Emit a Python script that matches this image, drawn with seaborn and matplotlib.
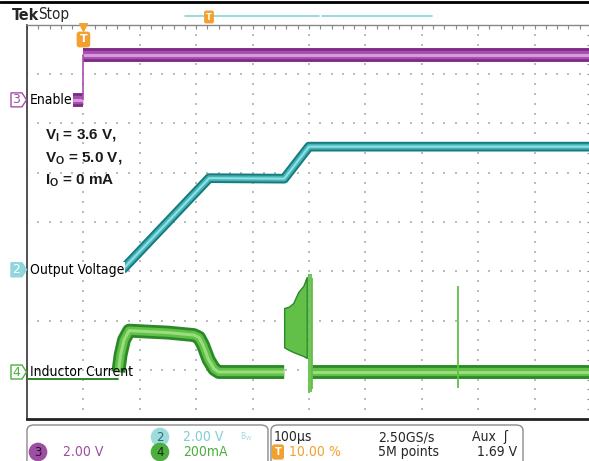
import numpy as np
import seaborn as sns
import matplotlib.pyplot as plt
from matplotlib.patches import Polygon, FancyBboxPatch
from matplotlib.lines import Line2D
from matplotlib.ticker import MultipleLocator

# ----------------------------------------------------------------------
# Scope traces (time in µs, trigger at t = 0, 100 µs/div)
# ----------------------------------------------------------------------
# Ch3 - Enable (V)
enable_low_t = [-25, 0]
enable_low_v = [0.0, 0.0]
enable_high_t = [0, 900]
enable_high_v = [1.83, 1.83]

# Ch2 - Output voltage (V)
vout_t = [69, 223, 356, 400, 900]
vout_v = [0.0, 3.72, 3.70, 5.0, 5.0]

# Ch4 - Inductor current (A)
il_pre_t = [-100, 62]
il_pre_a = [-0.03, -0.03]
il_hump_t = [62, 66, 72, 81, 150, 196, 205, 212, 222, 232, 240, 356]
il_hump_a = [0.0, 0.07, 0.13, 0.168, 0.16, 0.15, 0.14, 0.11, 0.05, 0.012, 0.0, 0.0]
il_burst_t = [356, 364, 372, 381, 390, 396]
il_burst_hi = [0.26, 0.265, 0.28, 0.325, 0.35, 0.386]
il_burst_lo = [0.10, 0.09, 0.081, 0.073, 0.065, 0.057]
il_post_t = [404, 900]
il_post_a = [0.0, 0.0]
il_spike_t = [400, 403, 406, 665]
il_spike_hi = [0.40, 0.40, 0.38, 0.35]
il_spike_lo = [-0.085, -0.08, -0.07, -0.065]

# channel settings: offset (div from bottom), scale (unit/div)
CH3_OFF, CH3_SCALE = 6.48, 2.0
CH2_OFF, CH2_SCALE = 3.03, 2.0
CH4_OFF, CH4_SCALE = 0.954, 0.2

# ----------------------------------------------------------------------
# Figure layout (pixels)
# ----------------------------------------------------------------------
W, H = 589, 461
AX_L, AX_R, AX_T, AX_B = 27, 591, 25, 419

PURPLE = ("#7e2b86", "#a94eb1", "#d39bd8")
TEAL = ("#167a7e", "#45b3b6", "#8ee0e2")
GREEN = ("#2a8a27", "#62bf48", "#98de7c")
ORANGE = "#f2a02e"

sns.set_style("white")
plt.rcParams["font.family"] = ["DejaVu Sans"]


def fx(px):
    return px / W


def fy(py):
    return 1 - py / H


def band(ax, t, y, colors, width, z=3):
    for c, lw in zip(colors, (width, width * 0.6, width * 0.22)):
        sns.lineplot(x=t, y=y, ax=ax, color=c, linewidth=lw, sort=False,
                     estimator=None, legend=False, zorder=z,
                     solid_capstyle="butt", solid_joinstyle="round")


fig = plt.figure(figsize=(W / 100, H / 100), dpi=100)
ax = fig.add_axes([fx(AX_L), fy(AX_B), (AX_R - AX_L) / W, (AX_B - AX_T) / H])
ax.set_xlim(-100, 900)
ax.set_ylim(0, 8)

# graticule dots (every 1/5 division along each major line)
xs_major = np.arange(0, 900, 100)
ys_major = np.arange(1, 8, 1)
xs_minor = np.arange(-100, 900.1, 20)
ys_minor = np.arange(0, 8.01, 0.2)
gx, gy = np.meshgrid(xs_major, ys_minor)
ax.scatter(gx.ravel(), gy.ravel(), s=1.0, marker="s", color="#bcbcbc",
           linewidths=0, zorder=1)
gx, gy = np.meshgrid(xs_minor, ys_major)
ax.scatter(gx.ravel(), gy.ravel(), s=1.0, marker="s", color="#bcbcbc",
           linewidths=0, zorder=1)

# frame and ticks
ax.xaxis.set_major_locator(MultipleLocator(100))
ax.xaxis.set_minor_locator(MultipleLocator(20))
ax.yaxis.set_major_locator(MultipleLocator(1))
ax.yaxis.set_minor_locator(MultipleLocator(0.2))
ax.tick_params(which="both", direction="in", length=3, width=0.8,
               color="#888888", top=True, right=True,
               labelbottom=False, labelleft=False)
for side, (c, lw) in {"left": ("#333333", 1.2), "bottom": ("#222222", 2.0),
                      "top": ("#888888", 1.0), "right": ("#888888", 1.0)}.items():
    ax.spines[side].set_color(c)
    ax.spines[side].set_linewidth(lw)
    ax.spines[side].set_visible(True)

# ---- Ch3 Enable
to3 = lambda v: [CH3_OFF + x / CH3_SCALE for x in v]
band(ax, enable_low_t, to3(enable_low_v), PURPLE, 10)
band(ax, enable_high_t, to3(enable_high_v), PURPLE, 10)
ax.vlines(enable_high_t[0], to3(enable_low_v)[1], to3(enable_high_v)[0],
          color=PURPLE[1], linewidth=1.2, zorder=3)

# ---- Ch2 Output voltage
to2 = lambda v: [CH2_OFF + x / CH2_SCALE for x in v]
band(ax, vout_t, to2(vout_v), TEAL, 7)

# ---- Ch4 Inductor current
to4 = lambda v: [CH4_OFF + x / CH4_SCALE for x in v]
sns.lineplot(x=il_pre_t, y=to4(il_pre_a), ax=ax, color=GREEN[0], linewidth=1.4,
             sort=False, estimator=None, legend=False, zorder=3)
band(ax, il_hump_t, to4(il_hump_a), GREEN, 10)
ax.fill_between(il_burst_t, to4(il_burst_lo), to4(il_burst_hi),
                color=GREEN[1], edgecolor=GREEN[0], linewidth=1.0, zorder=3)
band(ax, il_post_t, to4(il_post_a), GREEN, 10)
ax.vlines(il_spike_t, to4(il_spike_lo), to4(il_spike_hi),
          color=GREEN[1], linewidth=1.3, zorder=4)

# ---- channel ground markers and labels
ytr = ax.get_yaxis_transform()


def ax_x(px):
    return (px - AX_L) / (AX_R - AX_L)


def marker(off, num, fc, ec, tc, label, cover=True):
    h = 7 / 49.25
    pts = [(ax_x(11), off - h), (ax_x(22), off - h), (ax_x(26.5), off),
           (ax_x(22), off + h), (ax_x(11), off + h)]
    ax.add_patch(Polygon(pts, closed=True, facecolor=fc, edgecolor=ec,
                         linewidth=1.0, transform=ytr, clip_on=False, zorder=6))
    ax.text(ax_x(16.5), off, num, transform=ytr, ha="center", va="center",
            fontsize=9, color=tc, clip_on=False, zorder=7)
    box = dict(facecolor="white", edgecolor="none", pad=0.5) if cover else None
    ax.text(ax_x(29.5), off, label, transform=ytr, ha="left", va="center",
            fontsize=10, fontstretch="condensed", color="black", zorder=7,
            bbox=box)


marker(CH3_OFF, "3", "white", "#a14fa8", "#a14fa8", "Enable")
marker(CH2_OFF, "2", "#8fd6da", "#8fd6da", "white", "Output Voltage")
marker(CH4_OFF, "4", "white", "#4caf3c", "#4caf3c", "Inductor Current",
       cover=False)

# ---- trigger marker
xtr = ax.get_xaxis_transform()
ax.scatter([0], [(AX_B - 27.5) / (AX_B - AX_T)], transform=xtr, marker="v",
           s=30, color=ORANGE, zorder=8, clip_on=False)
ax.text(0, (AX_B - 39.5) / (AX_B - AX_T), "T", transform=xtr, ha="center",
        va="center", fontsize=8, fontweight="bold", color="white", zorder=8,
        bbox=dict(boxstyle="round,pad=0.2", facecolor=ORANGE, edgecolor=ORANGE))

# ---- conditions annotation
for i, s in enumerate([r"V$_\mathregular{I}$ = 3.6 V,",
                       r"V$_\mathregular{O}$ = 5.0 V,",
                       r"I$_\mathregular{O}$ = 0 mA"]):
    fig.text(fx(45), fy(136 + i * 22.5), s, fontsize=11, fontweight="bold",
             family=["Liberation Sans", "DejaVu Sans"],
             ha="left", va="center", color="#1a1a1a")

# ---- header
fig.add_artist(Line2D([0, 1], [fy(2), fy(2)], color="black", linewidth=2))
fig.text(fx(12), fy(15), "Tek", fontsize=11.5, fontweight="bold",
         ha="left", va="center", fontstretch="condensed")
fig.text(fx(38), fy(15), "Stop", fontsize=11, ha="left", va="center",
         fontstretch="condensed")
fig.add_artist(Line2D([fx(185), fx(319)], [fy(16), fy(16)], color="#86d4d8", linewidth=1.2))
fig.add_artist(Line2D([fx(322), fx(432)], [fy(16), fy(16)], color="#86d4d8", linewidth=1.2))
fig.text(fx(209), fy(17), "T", fontsize=6, fontweight="bold", color="white",
         ha="center", va="center",
         bbox=dict(boxstyle="round,pad=0.15", facecolor=ORANGE, edgecolor=ORANGE))

# ---- bottom readout panel
for x0, x1 in [(27, 268), (271, 523)]:
    fig.add_artist(FancyBboxPatch((fx(x0), fy(475)), (x1 - x0) / W, 50 / H,
                                  boxstyle="round,pad=0,rounding_size=0.012",
                                  facecolor="white", edgecolor="#8a8a8a",
                                  linewidth=1.0, transform=fig.transFigure))

PANEL_FS = 10
r1, r2 = fy(437), fy(452)


def chip(x, y, num, fc, tc):
    fig.text(fx(x), y, num, fontsize=8.5, color=tc, ha="center", va="center",
             bbox=dict(boxstyle="circle,pad=0.18", facecolor=fc, edgecolor=fc))


chip(38, r2, "3", "#9c4fa2", "#2b0f2e")
fig.text(fx(63), r2, "2.00 V", fontsize=PANEL_FS, color="#9c4fa2", va="center",
         fontstretch="condensed")
chip(160, r1, "2", "#9fdadd", "#2a6e72")
fig.text(fx(183), r1, "2.00 V", fontsize=PANEL_FS, color="#7fcfd3", va="center",
         fontstretch="condensed")
fig.text(fx(240), r1, r"B$_\mathregular{W}$", fontsize=5.5, color="#9fdadd",
         va="center")
chip(160, r2, "4", "#4cae3e", "#0f2e0f")
fig.text(fx(183), r2, "200mA", fontsize=PANEL_FS, color="#4cae3e", va="center",
         fontstretch="condensed")

fig.text(fx(274), r1, "100µs", fontsize=PANEL_FS, va="center", fontstretch="condensed")
fig.text(fx(378), r1, "2.50GS/s", fontsize=PANEL_FS, va="center", fontstretch="condensed")
fig.text(fx(472), r1, "Aux  ʃ", fontsize=PANEL_FS, va="center", fontstretch="condensed")
fig.text(fx(278), r2, "T", fontsize=7, fontweight="bold", color="white",
         ha="center", va="center",
         bbox=dict(boxstyle="round,pad=0.2", facecolor=ORANGE, edgecolor=ORANGE))
fig.text(fx(289), r2, "10.00 %", fontsize=PANEL_FS, color=ORANGE, va="center",
         fontstretch="condensed")
fig.text(fx(378), r2, "5M points", fontsize=PANEL_FS, va="center", fontstretch="condensed")
fig.text(fx(517), r2, "1.69 V", fontsize=PANEL_FS, va="center", ha="right",
         fontstretch="condensed")

fig.savefig("out.png", dpi=100)
